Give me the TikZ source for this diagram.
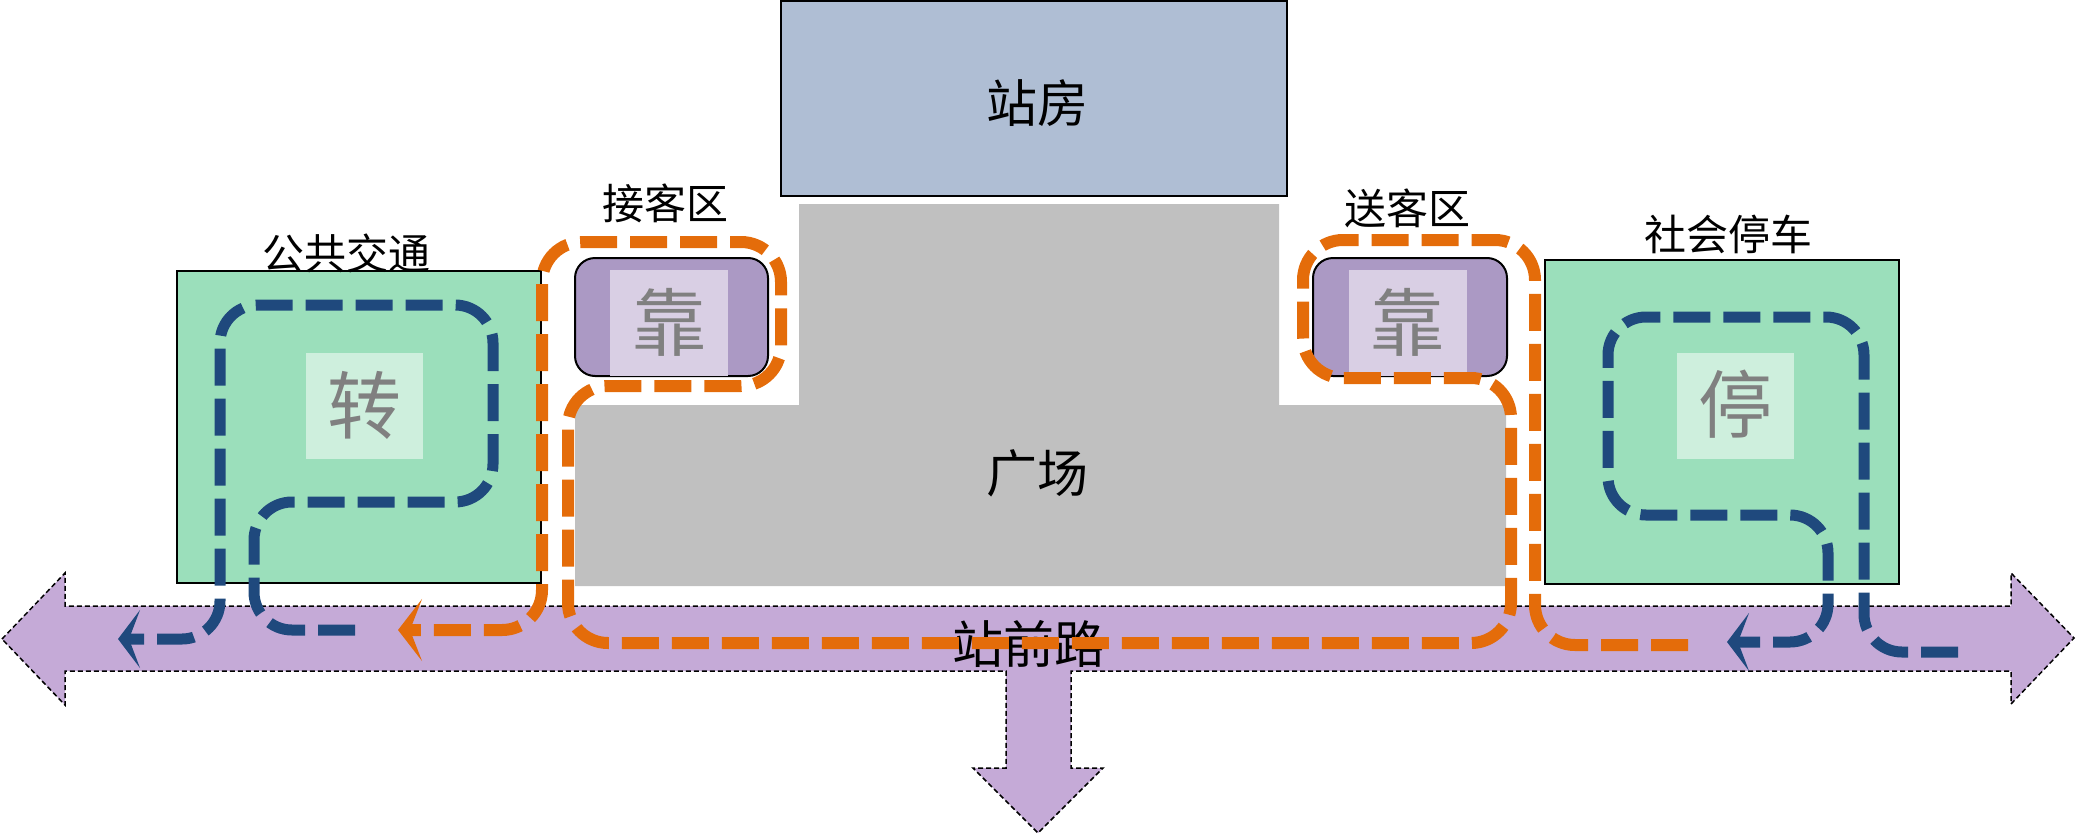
\documentclass[tikz,border=0pt]{standalone}
\usepackage{fontspec}
\newfontfamily\cjk{Noto Sans CJK SC}
\usetikzlibrary{arrows.meta}
\definecolor{stationblue}{RGB}{175,190,212}
\definecolor{plazagray}{RGB}{192,192,192}
\definecolor{zonegreen}{RGB}{155,223,187}
\definecolor{zonegreenlight}{RGB}{206,239,221}
\definecolor{boxpurple}{RGB}{171,153,196}
\definecolor{boxpurplelight}{RGB}{217,207,228}
\definecolor{roadpurple}{RGB}{197,170,215}
\definecolor{floworange}{RGB}{228,108,10}
\definecolor{flowblue}{RGB}{31,73,125}
\definecolor{chargray}{RGB}{128,128,128}
\begin{document}
\begin{tikzpicture}[x=1pt,y=-1pt,
  roadshape/.style={fill=roadpurple,draw=black,line width=1.5pt,dash pattern=on 5pt off 3pt},
  greenzone/.style={draw=black,line width=2pt,fill=zonegreen,inner sep=0pt},
  stopbox/.style={draw=black,line width=2pt,fill=boxpurple,rounded corners=20pt,inner sep=0pt},
  lightgreen/.style={fill=zonegreenlight,inner sep=0pt,minimum width=117pt,minimum height=106pt},
  lightpurple/.style={fill=boxpurplelight,inner sep=0pt,minimum width=118pt,minimum height=106pt},
  stationbox/.style={draw=black,line width=2.5pt,fill=stationblue,inner sep=0pt},
  zonelabel/.style={font=\cjk\fontsize{42}{50}\selectfont,inner sep=0pt},
  biglabel/.style={font=\cjk\fontsize{51}{60}\selectfont,inner sep=0pt},
  graychar/.style={font=\cjk\fontsize{74}{80}\selectfont,text=chargray,inner sep=0pt},
  orangeflow/.style={draw=floworange,line width=12pt,dash pattern=on 37pt off 13pt,rounded corners=40pt,
     -{Stealth[length=24pt,width=62pt,inset=12pt]}},
  blueflow/.style={draw=flowblue,line width=11pt,dash pattern=on 37pt off 13pt,rounded corners=38pt,
     -{Stealth[length=22pt,width=58pt,inset=11pt]}}
]
\useasboundingbox (0,0) rectangle (2077,835);

% road with arrows
\draw[roadshape] (2,639) -- (65,573) -- (65,606) -- (2011,606) -- (2011,573) -- (2074,638)
  -- (2011,704) -- (2011,671) -- (1071,671) -- (1071,768) -- (1103,768) -- (1038,833)
  -- (973,768) -- (1006,768) -- (1006,671) -- (65,671) -- (65,705) -- cycle;
\node[biglabel] (roadlabel) at (1029,644) {站前路};

% plaza
\fill[plazagray] (799,204) -- (1279,204) -- (1279,405) -- (1506,405) -- (1506,586)
  -- (575,586) -- (575,405) -- (799,405) -- cycle;
\node[biglabel] (plazalabel) at (1037,473) {广场};

% station house
\node[stationbox,minimum width=506pt,minimum height=195pt] (station) at (1034,98.5) {};
\node[biglabel] (stationlabel) at (1037,103) {站房};

% public transport zone
\node[greenzone,minimum width=364pt,minimum height=312pt] (bus) at (359,427) {};
\node[lightgreen] (busin) at (364.5,406) {};
\node[graychar] (buschar) at (364,405) {转};
\node[zonelabel] (buslabel) at (346,253) {公共交通};

% parking zone
\node[greenzone,minimum width=354pt,minimum height=324pt] (park) at (1722,422) {};
\node[lightgreen] (parkin) at (1735,406) {};
\node[graychar] (parkchar) at (1735,404) {停};
\node[zonelabel] (parklabel) at (1728,234) {社会停车};

% pick-up box
\node[stopbox,minimum width=193pt,minimum height=118pt] (pickup) at (671.5,317) {};
\node[lightpurple] (pickupin) at (669,323) {};
\node[graychar] (pickupchar) at (669,322) {靠};
\node[zonelabel] (pickuplabel) at (665,203) {接客区};

% drop-off box
\node[stopbox,minimum width=194pt,minimum height=118pt] (dropoff) at (1410,317) {};
\node[lightpurple] (dropoffin) at (1407.5,323) {};
\node[graychar] (dropoffchar) at (1407,322) {靠};
\node[zonelabel] (dropofflabel) at (1407,208) {送客区};

% orange flow (kiss and ride)
\draw[orangeflow] (1688,645) -- (1535,645) -- (1535,240) -- (1303,240) -- (1303,378)
  -- (1511,378) -- (1511,643) -- (568,643) -- (568,386) -- (781,386) -- (781,242)
  -- (542,242) -- (542,630) -- (398,630);

% blue flow left (public transport)
\draw[blueflow] (355,630) -- (254,630) -- (254,502) -- (493,502) -- (493,305)
  -- (220,305) -- (220,639) -- (118,639);

% blue flow right (parking)
\draw[blueflow] (1958,652) -- (1864,652) -- (1864,317) -- (1608,317) -- (1608,515)
  -- (1828,515) -- (1828,642) -- (1727,642);
\end{tikzpicture}
\end{document}
